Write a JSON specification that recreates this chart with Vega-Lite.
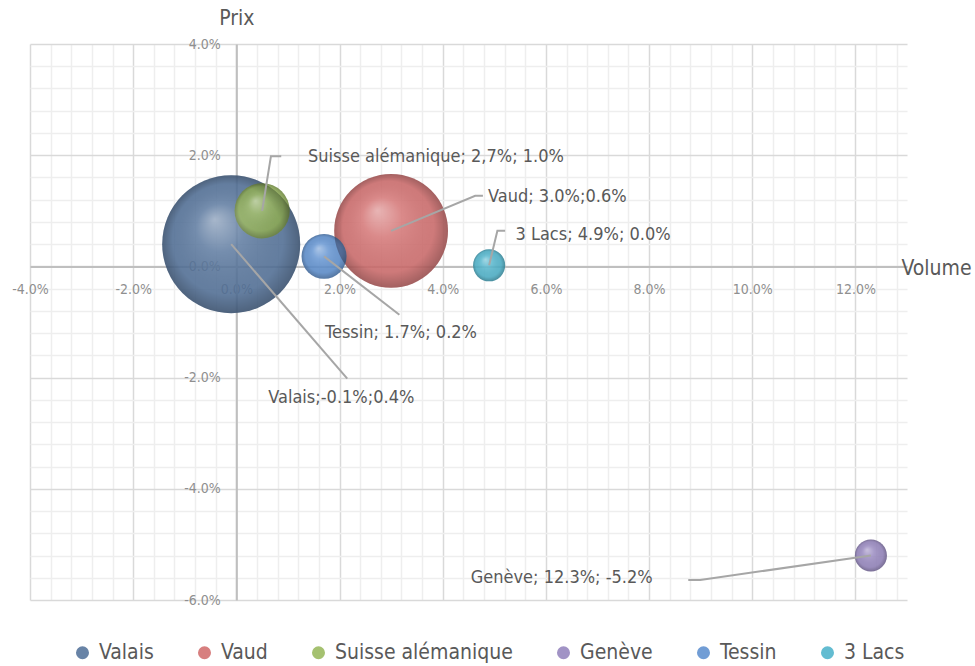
{
  "$schema": "https://vega.github.io/schema/vega-lite/v6.json",
  "width": 877,
  "height": 556,
  "autosize": {"type": "none"},
  "padding": {"left": 30, "top": 44, "right": 68, "bottom": 66},
  "background": "white",
  "config": {
    "font": "DejaVu Sans Condensed, Roboto, sans-serif",
    "view": {"stroke": null}
  },
  "datasets": {
    "bulles": [
      {"region": "Valais", "volume": -0.1, "prix": 0.4, "poids": 100},
      {"region": "Vaud", "volume": 3.0, "prix": 0.64, "poids": 68},
      {"region": "Suisse alémanique", "volume": 0.5, "prix": 1.0, "poids": 16},
      {"region": "Genève", "volume": 12.3, "prix": -5.2, "poids": 5.4},
      {"region": "Tessin", "volume": 1.7, "prix": 0.18, "poids": 10.6},
      {"region": "3 Lacs", "volume": 4.9, "prix": 0.02, "poids": 5.4}
    ],
    "reperes": [
      {"region": "Suisse alémanique", "seq": 1, "x": 0.5, "y": 1.0},
      {"region": "Suisse alémanique", "seq": 2, "x": 0.67, "y": 1.98},
      {"region": "Suisse alémanique", "seq": 3, "x": 0.87, "y": 1.98},
      {"region": "Vaud", "seq": 1, "x": 3.0, "y": 0.64},
      {"region": "Vaud", "seq": 2, "x": 4.63, "y": 1.27},
      {"region": "Vaud", "seq": 3, "x": 4.78, "y": 1.27},
      {"region": "3 Lacs", "seq": 1, "x": 4.9, "y": 0.02},
      {"region": "3 Lacs", "seq": 2, "x": 5.06, "y": 0.64},
      {"region": "3 Lacs", "seq": 3, "x": 5.21, "y": 0.64},
      {"region": "Tessin", "seq": 1, "x": 1.7, "y": 0.18},
      {"region": "Tessin", "seq": 2, "x": 3.16, "y": -0.87},
      {"region": "Valais", "seq": 1, "x": -0.1, "y": 0.4},
      {"region": "Valais", "seq": 2, "x": 2.15, "y": -2.02},
      {"region": "Genève", "seq": 1, "x": 12.3, "y": -5.2},
      {"region": "Genève", "seq": 2, "x": 8.99, "y": -5.64},
      {"region": "Genève", "seq": 3, "x": 8.76, "y": -5.64}
    ],
    "etiquettes": [
      {"texte": "Suisse alémanique; 2,7%; 1.0%", "x": 1.39, "y": 1.97, "ancrage": "gauche"},
      {"texte": "Vaud; 3.0%;0.6%", "x": 4.88, "y": 1.25, "ancrage": "gauche"},
      {"texte": "3 Lacs; 4.9%; 0.0%", "x": 5.41, "y": 0.56, "ancrage": "gauche"},
      {"texte": "Tessin; 1.7%; 0.2%", "x": 1.72, "y": -1.2, "ancrage": "gauche"},
      {"texte": "Valais;-0.1%;0.4%", "x": 0.62, "y": -2.37, "ancrage": "gauche"},
      {"texte": "Genève; 12.3%; -5.2%", "x": 8.07, "y": -5.6, "ancrage": "droite"}
    ]
  },
  "layer": [
    {
      "data": {"name": "bulles"},
      "mark": {"type": "point", "filled": true, "shape": "circle", "opacity": 0.88, "strokeWidth": 0},
      "encoding": {
        "x": {
          "field": "volume", "type": "quantitative",
          "scale": {"domain": [-4, 13], "nice": false, "zero": false},
          "axis": {
            "title": "Volume",
            "titleX": 871, "titleY": 2, "titleAlign": "left", "titleBaseline": "middle",
            "titleFontSize": 21, "titleFontWeight": "normal", "titleColor": "#595959",
            "offset": -333.6,
            "tickCount": 200,
            "values": [-4,-3.6,-3.2,-2.8,-2.4,-2,-1.6,-1.2,-0.8,-0.4,0,0.4,0.8,1.2,1.6,2,2.4,2.8,3.2,3.6,4,4.4,4.8,5.2,5.6,6,6.4,6.8,7.2,7.6,8,8.4,8.8,9.2,9.6,10,10.4,10.8,11.2,11.6,12,12.4,12.8],
            "labelExpr": "abs(datum.value/2 - round(datum.value/2)) < 0.01 ? replace(format(datum.value, '.1f'), '\u2212', '-') + '%' : ''",
            "labelFontSize": 14, "labelColor": "#8f8f8f", "labelPadding": 16, "labelFlush": false, "labelOverlap": false,
            "ticks": false,
            "domainColor": "#bfbfbf", "domainWidth": 2,
            "grid": true, "gridWidth": 1.5,
            "gridColor": {"condition": {"test": "abs(datum.value/2 - round(datum.value/2)) < 0.01", "value": "#d9d9d9"}, "value": "#eeeeee"}
          }
        },
        "y": {
          "field": "prix", "type": "quantitative",
          "scale": {"domain": [-6, 4], "nice": false, "zero": false},
          "axis": {
            "title": "Prix",
            "titleX": 0, "titleY": -26, "titleAngle": 0, "titleAlign": "center", "titleBaseline": "middle",
            "titleFontSize": 21, "titleFontWeight": "normal", "titleColor": "#595959",
            "offset": -206.35,
            "tickCount": 200,
            "values": [-6,-5.6,-5.2,-4.8,-4.4,-4,-3.6,-3.2,-2.8,-2.4,-2,-1.6,-1.2,-0.8,-0.4,0,0.4,0.8,1.2,1.6,2,2.4,2.8,3.2,3.6,4],
            "labelExpr": "abs(datum.value/2 - round(datum.value/2)) < 0.01 ? replace(format(datum.value, '.1f'), '\u2212', '-') + '%' : ''",
            "labelFontSize": 14, "labelColor": "#8f8f8f", "labelPadding": 16, "labelFlush": false, "labelOverlap": false,
            "ticks": false,
            "domainColor": "#bfbfbf", "domainWidth": 2,
            "grid": true, "gridWidth": 1.5,
            "gridColor": {"condition": {"test": "abs(datum.value/2 - round(datum.value/2)) < 0.01", "value": "#d9d9d9"}, "value": "#eeeeee"}
          }
        },
        "size": {
          "field": "poids", "type": "quantitative",
          "scale": {"domain": [0, 100], "range": [0, 19044]},
          "legend": null
        },
        "color": {
          "field": "region", "type": "nominal",
          "sort": ["Valais", "Vaud", "Suisse alémanique", "Genève", "Tessin", "3 Lacs"],
          "scale": {
            "domain": ["Valais", "Vaud", "Suisse alémanique", "Genève", "Tessin", "3 Lacs"],
            "range": ["#53729a", "#d26d6d", "#98b85c", "#9484bd", "#5d8fcf", "#4db3cb"]
          },
          "legend": {
            "title": null,
            "orient": "none",
            "legendX": 42,
            "legendY": 598,
            "direction": "horizontal",
            "symbolType": "circle",
            "symbolSize": 170,
            "symbolStrokeWidth": 0,
            "labelFontSize": 21,
            "labelColor": "#595959",
            "labelOffset": 6,
            "labelLimit": 400,
            "columnPadding": 40
          }
        }
      }
    },
    {
      "data": {"name": "bulles"},
      "mark": {
        "type": "point", "filled": true, "shape": "circle", "strokeWidth": 0,
        "fill": {
          "gradient": "radial",
          "x1": 0.38, "y1": 0.32, "r1": 0,
          "x2": 0.5, "y2": 0.5, "r2": 0.5,
          "stops": [
            {"offset": 0, "color": "rgba(255,255,255,0.6)"},
            {"offset": 0.35, "color": "rgba(255,255,255,0.12)"},
            {"offset": 0.8, "color": "rgba(0,0,0,0.06)"},
            {"offset": 1, "color": "rgba(0,0,0,0.35)"}
          ]
        }
      },
      "encoding": {
        "x": {"field": "volume", "type": "quantitative"},
        "y": {"field": "prix", "type": "quantitative"},
        "size": {"field": "poids", "type": "quantitative", "legend": null}
      }
    },
    {
      "data": {"name": "reperes"},
      "mark": {"type": "line", "color": "#a6a6a6", "strokeWidth": 2},
      "encoding": {
        "x": {"field": "x", "type": "quantitative"},
        "y": {"field": "y", "type": "quantitative"},
        "detail": {"field": "region"},
        "order": {"field": "seq"}
      }
    },
    {
      "data": {"name": "etiquettes"},
      "transform": [{"filter": "datum.ancrage === 'gauche'"}],
      "mark": {"type": "text", "align": "left", "baseline": "middle", "fontSize": 18, "color": "#595959"},
      "encoding": {
        "x": {"field": "x", "type": "quantitative"},
        "y": {"field": "y", "type": "quantitative"},
        "text": {"field": "texte"}
      }
    },
    {
      "data": {"name": "etiquettes"},
      "transform": [{"filter": "datum.ancrage === 'droite'"}],
      "mark": {"type": "text", "align": "right", "baseline": "middle", "fontSize": 18, "color": "#595959"},
      "encoding": {
        "x": {"field": "x", "type": "quantitative"},
        "y": {"field": "y", "type": "quantitative"},
        "text": {"field": "texte"}
      }
    }
  ]
}
